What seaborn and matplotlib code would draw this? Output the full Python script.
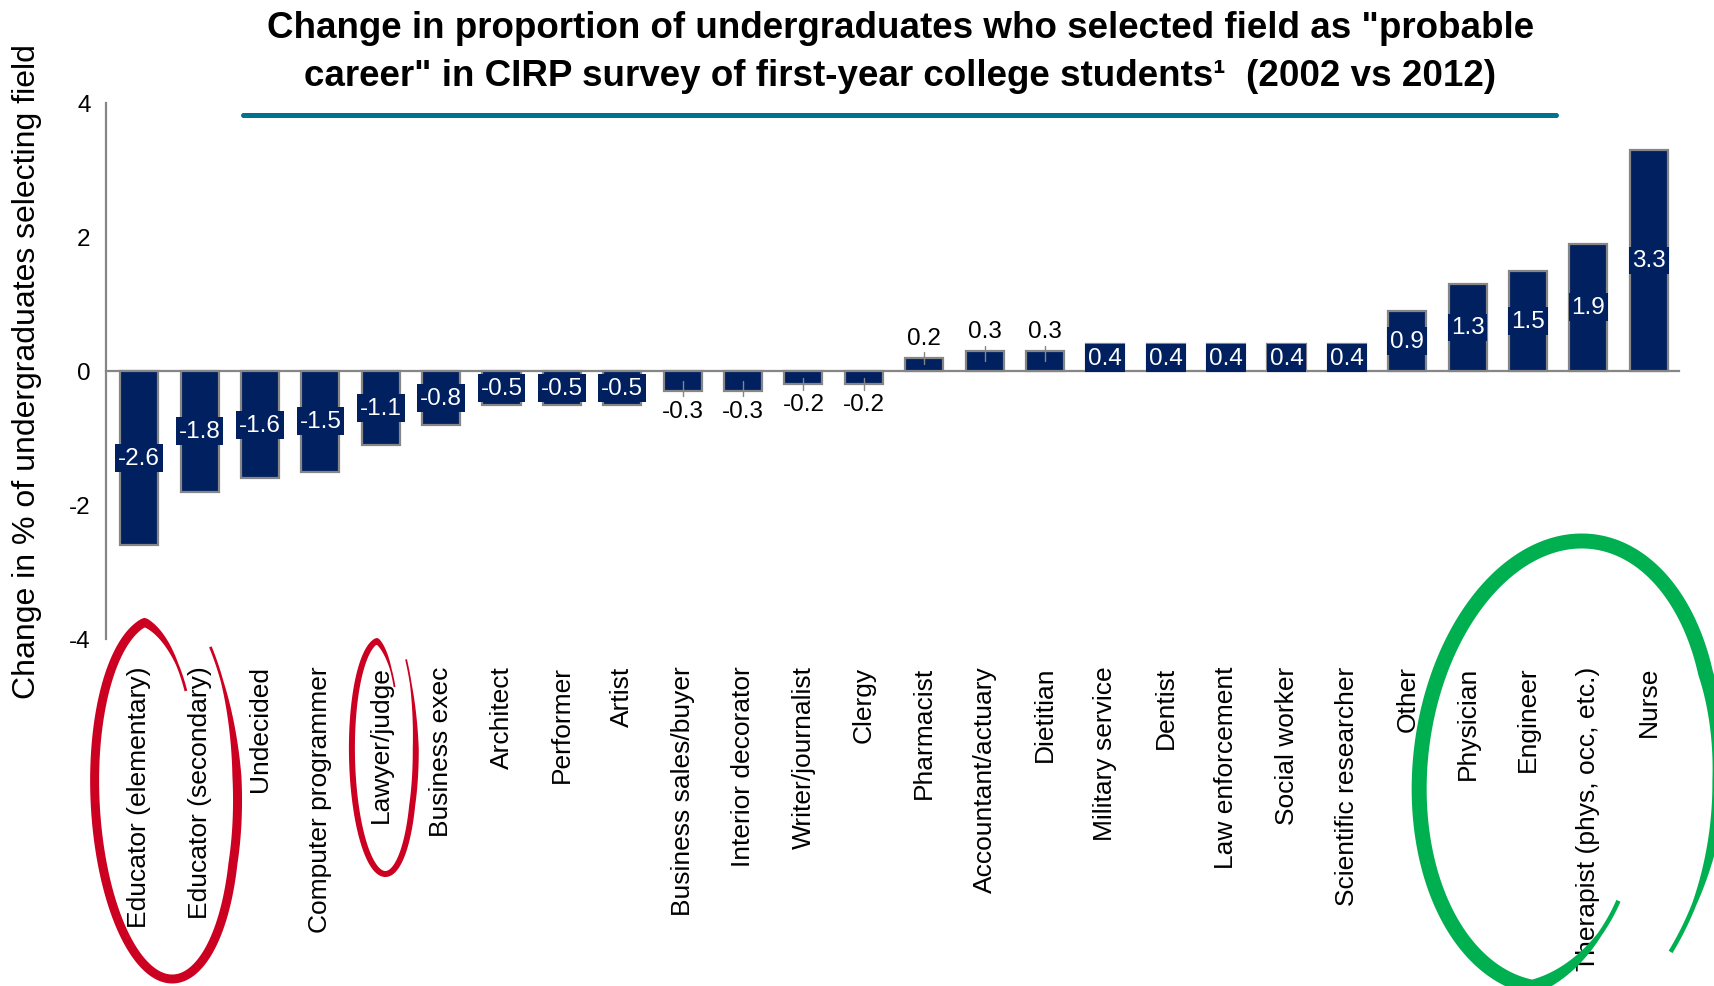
import numpy as np
import pandas as pd
import matplotlib
matplotlib.use("Agg")
import matplotlib.pyplot as plt
from matplotlib.patches import Polygon
from matplotlib.lines import Line2D
import seaborn as sns

# data
categories = [
    "Educator (elementary)", "Educator (secondary)", "Undecided",
    "Computer programmer", "Lawyer/judge", "Business exec", "Architect",
    "Performer", "Artist", "Business sales/buyer", "Interior decorator",
    "Writer/journalist", "Clergy", "Pharmacist", "Accountant/actuary",
    "Dietitian", "Military service", "Dentist", "Law enforcement",
    "Social worker", "Scientific researcher", "Other", "Physician",
    "Engineer", "Therapist (phys, occ, etc.)", "Nurse",
]
change_pct = [
    -2.6, -1.8, -1.6, -1.5, -1.1, -0.8, -0.5, -0.5, -0.5, -0.3, -0.3,
    -0.2, -0.2, 0.2, 0.3, 0.3, 0.4, 0.4, 0.4, 0.4, 0.4, 0.9, 1.3, 1.5,
    1.9, 3.3,
]
y_ticks = [-4, -2, 0, 2, 4]

title_lines = [
    'Change in proportion of undergraduates who selected field as "probable',
    'career" in CIRP survey of first-year college students\u00b9  (2002 vs 2012)',
]
y_label = "Change in % of undergraduates selecting field"

NAVY = "#002060"
GRAY = "#868686"
TEAL = "#00718F"
RED = "#CC0020"
GREEN = "#00B050"

sns.set_style("white")
plt.rcParams["font.family"] = ["Liberation Sans", "DejaVu Sans"]
plt.rcParams["axes.unicode_minus"] = False
for key in ["text.color", "axes.labelcolor", "xtick.labelcolor",
            "ytick.labelcolor"]:
    plt.rcParams[key] = "black"

W, H = 1715, 987
fig = plt.figure(figsize=(W / 100, H / 100), dpi=100)
ax = fig.add_axes([106 / W, 1 - 640 / H, 1573 / W, 536 / H])

df = pd.DataFrame({"field": categories, "change": change_pct})
sns.barplot(data=df, x="field", y="change", order=categories, color=NAVY,
            saturation=1, width=0.63, edgecolor=GRAY, linewidth=1.6, ax=ax,
            zorder=3)

ax.set_xlim(-0.55, len(categories) - 0.5)
ax.set_ylim(-4, 4)
ax.set_yticks(y_ticks)
ax.set_xlabel("")
ax.set_ylabel(y_label, fontsize=23, va="center")
ax.yaxis.set_label_coords(-0.0502, 0.5)

# axis at zero, category labels pushed well below the plot
sns.despine(ax=ax)
ax.spines["bottom"].set_position(("data", 0))
for side in ["left", "bottom"]:
    ax.spines[side].set_color(GRAY)
    ax.spines[side].set_linewidth(1.6)
ax.set_xticks(np.arange(-0.5, len(categories), 1), minor=True)
ax.tick_params(axis="x", which="major", length=0, pad=212, labelsize=19,
               labelrotation=90)
ax.tick_params(axis="x", which="minor", length=6, width=1.5, color=GRAY,
               direction="out")
ax.tick_params(axis="y", length=5, width=1.5, color=GRAY, direction="out",
               labelsize=17.5, pad=6)
ax.grid(False)

# value labels
for bar, v in zip(ax.containers[0], change_pct):
    xc = bar.get_x() + bar.get_width() / 2
    txt = f"{v:.1f}"
    if abs(v) < 0.35:
        sign = 1 if v > 0 else -1
        ax.plot([xc, xc], [v / 2, v + sign * 0.08], color=GRAY, lw=1, zorder=4)
        ax.text(xc, v + sign * 0.29, txt, ha="center", va="center",
                fontsize=17.5, color="black", zorder=4)
    else:
        ax.text(xc, v / 2, txt, ha="center", va="center", fontsize=17.5,
                color="white", zorder=4,
                bbox=dict(boxstyle="square,pad=0.12", fc=NAVY, ec="none"))

# title and rule beneath it
fig.text(0.525, 1 - 29 / H, title_lines[0], ha="center", va="center",
         fontsize=26.5, fontweight="bold")
fig.text(0.525, 1 - 76 / H, title_lines[1], ha="center", va="center",
         fontsize=26.5, fontweight="bold")
fig.add_artist(Line2D([243 / W, 1556 / W], [1 - 116 / H, 1 - 116 / H],
                      color=TEAL, lw=3.6, transform=fig.transFigure))


def loop_stroke(cx, cy, a, b, th0, th1, r0, r1, wmax, skew, color):
    # hand-drawn style loop, in pixel coords (y down)
    s = np.linspace(0, 1, 500)
    th = np.radians(th0 + (th1 - th0) * s)
    r = np.interp(s, [0, 0.12, 0.8, 1], [r0, 1, 1, r1])
    y = cy - r * b * np.sin(th)
    x = cx + r * a * np.cos(th) + skew * (y - cy)
    dx, dy = np.gradient(x), np.gradient(y)
    n = np.hypot(dx, dy)
    nx, ny = -dy / n, dx / n
    w = wmax * np.clip(np.minimum(s / 0.12, (1 - s) / 0.12), 0.3, 1)
    px = np.r_[x + nx * w / 2, (x - nx * w / 2)[::-1]]
    py = np.r_[y + ny * w / 2, (y - ny * w / 2)[::-1]]
    fig.add_artist(Polygon(np.c_[px / W, 1 - py / H], closed=True,
                           transform=fig.transFigure, fc=color, ec="none",
                           zorder=5))


loop_stroke(165, 800, 70, 180, 59, 409, 0.70, 1.12, 9, 0.04, RED)
loop_stroke(383, 758, 31, 117, 55, 406, 0.73, 1.16, 6, 0.02, RED)
loop_stroke(1566, 766, 146, 224, 305, -46, 0.74, 1.16, 15, -0.07, GREEN)

plt.savefig("out.png", dpi=100)
